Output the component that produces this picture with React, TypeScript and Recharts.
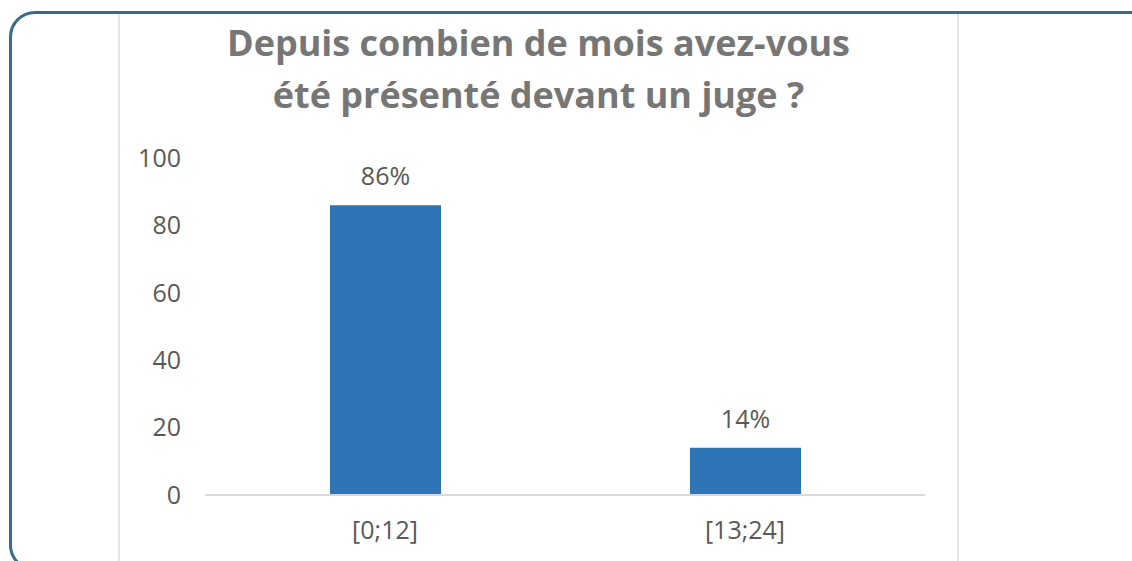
import React from 'react';
import { BarChart, Bar, XAxis, YAxis, LabelList } from 'recharts';

const categories = ['[0;12]', '[13;24]'];
const values = [86, 14];
const yTicks = [0, 20, 40, 60, 80, 100];
const titleLines = ['Depuis combien de mois avez-vous', 'été présenté devant un juge ?'];

const data = categories.map((c, i) => ({ name: c, value: values[i] }));

const FONT = '"Open Sans", sans-serif';

export default function App() {
  return (
    <div style={{ position: 'absolute', left: 0, top: 0, width: 1132, height: 561, background: '#fff', overflow: 'hidden', fontFamily: FONT }}>
      <div style={{ position: 'absolute', left: 118, top: 12, width: 2, height: 560, background: '#e6e6e6' }} />
      <div style={{ position: 'absolute', left: 957, top: 12, width: 2, height: 560, background: '#e6e6e6' }} />
      <div style={{ position: 'absolute', left: 9, top: 11, width: 1150, height: 560, border: '3px solid #3b6a8c', borderRadius: 26, boxSizing: 'border-box' }} />
      <div style={{ position: 'absolute', left: 120, width: 837, top: 17, textAlign: 'center', color: '#767676', fontWeight: 700, fontSize: 36, lineHeight: '52px' }}>
        {titleLines.map((t, i) => (<div key={i}>{t}</div>))}
      </div>
      <div style={{ position: 'absolute', left: 0, top: 0 }}>
        <BarChart width={1132} height={561} data={data} margin={{ top: 158, right: 207, bottom: 36, left: 140 }}>
          <XAxis dataKey="name" height={30} axisLine={{ stroke: '#d9d9d9', strokeWidth: 2 }} tickLine={false} tickMargin={20}
            tick={{ fill: '#595959', fontSize: 25, fontFamily: FONT }} />
          <YAxis width={65} domain={[0, 100]} ticks={yTicks} axisLine={false} tickLine={false} tickMargin={18}
            tick={{ fill: '#595959', fontSize: 25, fontFamily: FONT }} />
          <Bar dataKey="value" fill="#2e75b6" barSize={111} isAnimationActive={false}>
            <LabelList dataKey="value" position="top" offset={20} formatter={(v: number) => `${v}%`}
              style={{ fill: '#595959', fontSize: 25, fontFamily: FONT }} />
          </Bar>
        </BarChart>
      </div>
    </div>
  );
}
